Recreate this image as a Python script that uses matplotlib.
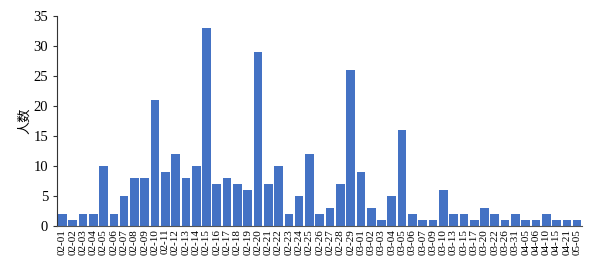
import matplotlib
matplotlib.use("Agg")
import matplotlib.pyplot as plt
import numpy as np

# dates (month-day) and number of people
dates = ["02-01", "02-02", "02-03", "02-04", "02-05", "02-06", "02-07", "02-08",
         "02-09", "02-10", "02-11", "02-12", "02-13", "02-14", "02-15", "02-16",
         "02-17", "02-18", "02-19", "02-20", "02-21", "02-22", "02-23", "02-24",
         "02-25", "02-26", "02-27", "02-28", "02-29", "03-01", "03-02", "03-03",
         "03-04", "03-05", "03-06", "03-07", "03-09", "03-10", "03-13", "03-15",
         "03-17", "03-20", "03-22", "03-26", "03-31", "04-05", "04-06", "04-10",
         "04-15", "04-21", "05-05"]
counts = [2, 1, 2, 2, 10, 2, 5, 8,
          8, 21, 9, 12, 8, 10, 33, 7,
          8, 7, 6, 29, 7, 10, 2, 5,
          12, 2, 3, 7, 26, 9, 3, 1,
          5, 16, 2, 1, 1, 6, 2, 2,
          1, 3, 2, 1, 2, 1, 1, 2,
          1, 1, 1]
yticks = [0, 5, 10, 15, 20, 25, 30, 35]

plt.rcParams['font.family'] = ['Liberation Serif', 'Noto Sans CJK SC']

fig = plt.figure(figsize=(5.96, 2.75), dpi=100)
ax = fig.add_axes([0.096, 0.178, 0.881, 0.764])

x = np.arange(len(dates))
ax.bar(x, counts, width=0.84, color='#4472C4')

ax.set_xlim(-0.5, len(dates) - 0.5)
ax.set_ylim(0, 35)
ax.set_yticks(yticks)
ax.set_xticks(x)
ax.set_xticklabels(dates, rotation=90, fontsize=8)
ax.tick_params(axis='x', length=0, pad=2)
ax.tick_params(axis='y', labelsize=10.5, length=3, width=0.8, color='#333333')
ax.set_ylabel('人数', family=['Noto Sans CJK SC'], fontsize=9.5, labelpad=2)

ax.spines['top'].set_visible(False)
ax.spines['right'].set_visible(False)
ax.spines['left'].set_color('#333333')
ax.spines['bottom'].set_color('#555555')

fig.savefig('out.png', dpi=100)
